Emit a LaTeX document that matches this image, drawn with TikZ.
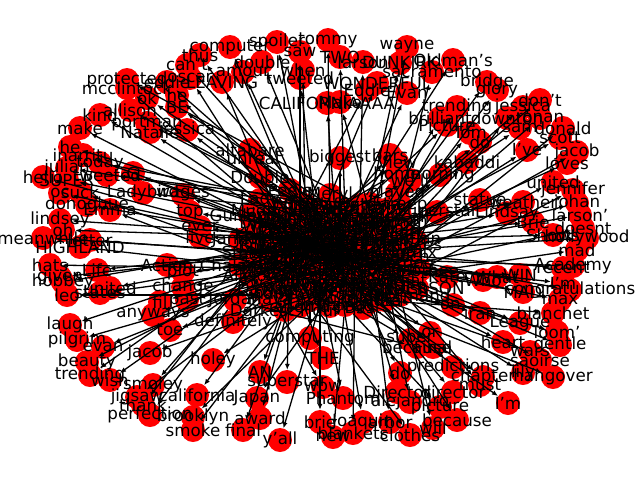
\documentclass[tikz,border=0pt]{standalone}
\usepackage{fontspec}
\setmainfont{DejaVu Sans}
\usetikzlibrary{arrows.meta}

\newcommand\hublist{290/235/Oscars,330/225/the,370/240/and,385/270/best,340/285/Oscar,295/280/film,260/255/actor,320/255/actress,355/260/movie,305/205/night,360/205/water,270/295/shape,
250/215/Guillermo,280/220/Toro,345/215/Gary,395/220/Oldman,410/245/Frances,400/295/McDormand,250/275/Allison,240/240/Janney,275/245/Rockwell,315/240/Kimmel,350/240/Coco,380/255/Get Out,
330/270/Call Me,300/260/Your Name,365/280/Billboards,310/300/Three,285/310/Darkest Hour,345/305/Thread,260/200/Lady,330/195/Meryl,400/205/Streep,235/300/Jordan,290/190/Peele,375/300/Denzel,
420/270/Timothee,240/265/Chalamet,365/225/Daniel,300/225/Kaluuya,270/270/Margot,320/285/Robbie,345/250/Greta,295/250/Gerwig,385/240/Nolan,
275/210/Mudbound,315/210/Logan,350/210/Icarus,385/210/Baby,265/222/Driver,295/222/Blade,325/222/Runner,355/222/Molly,395/222/Game,
255/234/Kobe,285/234/Bryant,315/234/Remember,345/234/Mighty,375/234/River,405/234/Mary,265/246/Oliver,300/246/Jane,330/246/Fonda,365/246/Eva,395/246/Marie,
280/258/Saint,310/258/Emma,340/258/Stone,370/258/Jimmy,400/258/speech,260/270/host,295/270/red,325/270/carpet,355/270/stage,390/270/tonight,
275/282/watch,305/282/winner,345/282/winners,380/282/love,405/282/great,290/294/congrats,325/294/awards,360/294/ceremony,300/306/cinema,330/306/amazing,
300/204/Willem,335/204/Dafoe,370/204/Octavia,280/216/Spencer,310/216/Lesley,340/216/Manville,370/216/Laurie,400/216/Metcalf,
270/228/Woody,300/228/Harrelson,330/228/Christopher,360/228/Plummer,390/228/Richard,265/240/Jenkins,295/240/Roger,325/240/Deakins,355/240/Lee,395/240/Unkrich,415/240/Sufjan,
255/252/Stevens,290/252/Mystery,320/252/Eyes,350/252/Pixar,380/252/Disney,410/252/Netflix,275/264/dress,305/264/gown,340/264/joke,375/264/Jet Ski,405/264/hotdog,
290/276/Vegas,320/276/Lupita,360/276/Nyongo,395/276/Viola,260/288/Davis,290/288/Kumail,330/288/Nanjiani,365/288/Tiffany,395/288/Haddish,270/300/Maya,350/300/Rudolph,385/300/Rita}

\newcommand\hubedges{1/13,1/14,1/20,1/21,1/44,2/15,2/22,2/32,2/35,2/40,3/16,3/17,3/23,3/39,3/45,4/18,4/24,4/36,4/37,5/27,5/28,5/30,5/42,
6/12,6/19,6/29,6/41,7/20,7/31,7/34,7/38,8/25,8/26,8/43,9/24,9/27,9/43,10/31,10/35,10/14,11/33,11/16,11/39,12/34,12/29,
1/2,2/3,3/4,4/5,5/6,6/7,7/1,8/1,8/2,8/3,8/4,8/5,8/6,8/7,8/9,9/3,9/4,10/2,11/2,11/3,12/6,13/7,22/9,44/8,21/7,26/9,25/5,23/11,
10/46,2/47,11/48,3/49,7/50,1/51,2/52,15/53,16/54,13/55,1/56,8/57,9/58,3/59,17/60,21/61,44/62,8/63,9/64,4/65,
7/66,26/67,8/68,9/69,4/70,19/71,6/72,25/73,27/74,24/75,12/76,6/77,5/78,4/79,18/80,12/81,28/82,27/83,29/84,30/85,
46/2,49/4,52/9,56/6,60/12,63/1,66/3,70/7,74/10,78/11,81/2,84/3,
10/86,2/87,11/88,14/89,10/90,15/91,3/92,16/93,7/94,1/95,2/96,3/97,17/98,7/99,1/100,8/101,9/102,3/103,17/104,
20/105,1/106,8/107,9/108,24/109,4/110,7/111,8/112,25/113,4/114,37/115,6/116,25/117,5/118,4/119,19/120,6/121,42/122,27/123,18/124,12/125,30/126,36/127,
86/9,90/5,95/4,100/6,105/3,110/12,115/1,120/11,125/2}

\newcommand\outerlist{200/55/thus/10,187/65/can't/2,190/78/oscar/1,222/82/LEAVING/14,243/72/amour/10,230/47/computer/35,262/62/double/2,277/42/spoiler/22,
300/52/saw/40,328/40/tommy/2,340/57/TWO/15,303/70/when/10,300/78/tweeted/8,363/62/larson/11,407/47/wayne/3,400/63/DUNKIRK/39,432/72/sacramento/16,
453/60/Oldman's/11,487/82/bridge/3,497/90/glory/45,540/100/don't/16,457/107/trending/33,523/107/jessica/3,440/118/brilliant/9,447/125/Picture/11,
507/118/downton/17,540/118/ronan/24,563/128/donald/4,470/133/Tom/16,520/128/sam/23,560/138/scott/3,480/142/do/33,527/150/I've/45,577/152/jacob/17,
567/163/loves/9,467/162/kabaddi/24,440/175/morning/3,553/182/united/4,573/190/jennifer/37,577/203/johan/24,480/200/statue/9,523/202/weather/1,
507/213/Lindsay/7,580/215/larson'/17,533/222/Brie/23,583/228/doesnt/4,553/235/Shows/3,587/238/hollywood/8,577/250/mad/5,563/268/recent/21,
573/266/Academy/7,497/277/What/9,483/280/Who/26,520/275/WIN/4,563/283/I'm/9,570/290/congratulations/24,523/292/MAD/8,453/305/on./5,560/300/max/37,
480/313/iran/18,553/313/blanchet/36,520/323/League/4,557/332/loom'/27,503/342/heart/1,560/345/gentle/9,530/352/wars/5,540/360/saoirse/4,
453/367/predictions/27,483/377/chapter/25,523/373/lily/18,553/377/hangover/42,480/385/must/4,453/392/director/36,508/403/I'm/5,440/407/picture/30,
457/420/because/9,433/428/will/18,400/373/do/2,397/392/Director/27,410/402/alejandro/4,390/422/arbor/36,363/422/Joaquin/5,410/435/clothes/28,
353/433/blankets/9,333/437/new/30,320/422/brie/8,343/398/Phantom/42,323/387/wow/12,287/382/superstar/1,260/372/AN/26,323/358/THE/6,310/338/computing/28,
280/440/y'all/25,243/430/final/29,260/418/award/6,257/398/Japan/3,213/360/holey/24,197/395/california/12,193/417/brooklyn/9,193/430/smoke/29,
150/415/perfection/34,143/405/thank/7,137/397/jigsaw/12,153/385/smoley/19,110/380/wish/2,90/375/trending/1,87/362/beauty/41,150/353/jacob/4,
103/347/evan/3,77/340/pilgrim/9,170/330/toe/27,153/315/anyways/23,70/325/laugh/44,187/300/past/25,160/302/fil/8,183/287/change/9,183/272/plot/26,
167/265/Action/43,67/295/leo/12,100/293/states/24,110/288/united/3,63/282/hobbey/22,60/277/given/7,97/270/Life/45,50/265/hats/4,80/247/HIGHLAND/27,
90/240/letter/9,43/238/meanwhile/8,63/230/oh/3,60/220/lindsey/23,110/210/Emma/6,87/205/donoghue/24,60/193/oc/37,80/192/suck/5,67/180/SUPER/3,
43/177/hello/4,107/175/tweeted/11,133/173/G/9,100/163/today/16,67/168/julian/10,83/155/inarritu/13,70/147/he/2,80/128/make/1,100/115/kind/14,
130/110/allison/10,147/123/portman/3,150/132/Natalie/22,187/130/jessica/9,127/88/mcclintock/8,127/80/protected/11,167/82/eddie/2,177/95/he/40,
147/98/ok/10,177/107/BE/15,143/193/Ladybird/16,183/195/wages/9,190/212/top/3,200/227/ever/24,200/237/live/45,327/103/CALIFORNIAAAA/5,340/102/Make/4,
377/83/WONDERFUL/6,367/90/Eddie/1,407/93/Evan/28,250/150/altabare/9,253/158/unreal/3,260/177/Double/4,340/158/biggest/5,390/155/bars/12,
397/162/View/19,397/173/home/1,410/180/we'll/7,397/193/played/6,437/212/Superstar/1,447/277/Kate/21,417/288/ANDERSON/13,387/295/yet/7,
363/308/Best/35,233/322/definitely/11,430/333/or/31,410/340/super/20,417/347/because/34,433/347/Final/14}

\begin{document}
\begin{tikzpicture}[
x=1pt, y=-1pt,
vert/.style={circle, fill=red, minimum size=24pt, inner sep=0pt},
lbl/.style={inner sep=0pt, font=\fontsize{16.7}{20}\selectfont},
arr/.style={-{Latex[length=6pt,width=5pt]}, line width=1.3pt}
]
\useasboundingbox (0,0) rectangle (640,480);
\foreach \x/\y/\t [count=\i] in \hublist {\node[vert] (c\i) at (\x,\y) {};}
\foreach \x/\y/\t/\h [count=\i] in \outerlist {\node[vert] (o\i) at (\x,\y) {};}
\foreach \a/\b in \hubedges {\draw[arr] (c\a) -- (c\b);}
\foreach \x/\y/\t/\h [count=\i] in \outerlist {\draw[arr] (c\h) -- (o\i);}
\foreach \x/\y/\t [count=\i] in \hublist {\node[lbl] (tc\i) at (c\i) {\t};}
\foreach \x/\y/\t/\h [count=\i] in \outerlist {\node[lbl] (to\i) at (o\i) {\t};}
\end{tikzpicture}
\end{document}
